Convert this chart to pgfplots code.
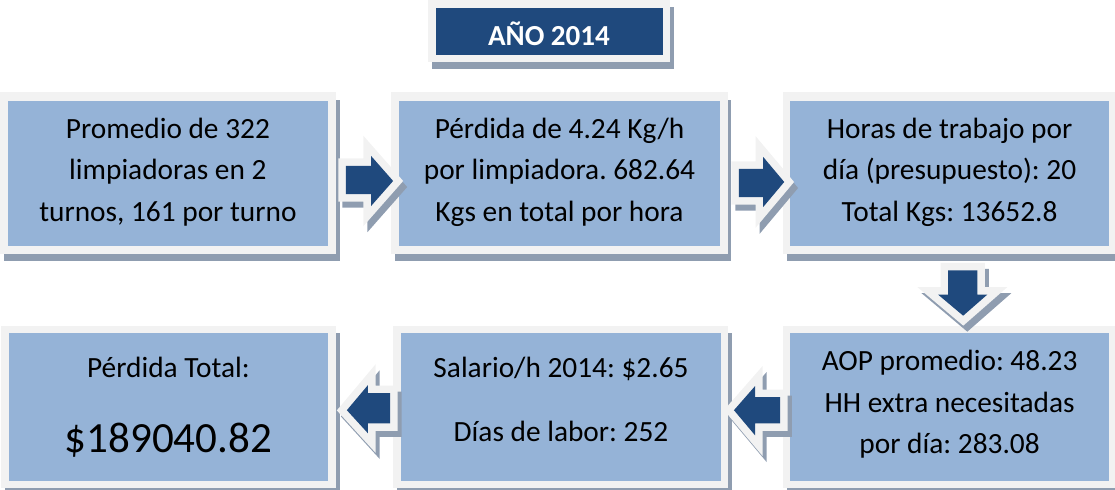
\documentclass[border=0pt]{standalone}
\usepackage{fontspec}
\setmainfont{Carlito}
\usepackage{pgfplots}
\pgfplotsset{compat=1.18}
\definecolor{frm}{HTML}{F2F2F2}
\definecolor{fillb}{HTML}{95B3D7}
\definecolor{dark}{HTML}{1F497D}
\definecolor{shd}{RGB}{143,157,176}
% rectangle from (x1,y1) to (x2,y2), pixel coordinates, y down
\newcommand\rect[5]{\addplot[draw=none,fill=#1,mark=none] coordinates {(#2,#3) (#4,#3) (#4,#5) (#2,#5)} --cycle;}
\tikzset{txt/.style={anchor=base,inner sep=0pt,font=\fontsize{29.3}{41}\selectfont,text=black}}
\frenchspacing
\begin{document}
\begin{tikzpicture}
\begin{axis}[x=1bp,y=1bp,xmin=0,xmax=1115,ymin=0,ymax=489,y dir=reverse,
  hide axis,scale only axis,clip=true]
% ---- title
\rect{shd}{436}{9}{676}{71}
\rect{frm}{432}{2}{672}{64}
\rect{dark}{440}{10}{665}{57}
% ---- top row boxes: shadow, frame, inner
\rect{shd}{10}{101}{344}{262}
\rect{frm}{6}{94}{340}{255}
\rect{fillb}{14}{102}{332}{247}
\rect{shd}{399}{101}{733}{262}
\rect{frm}{395}{94}{730}{255}
\rect{fillb}{403}{102}{722}{247}
\rect{shd}{789}{101}{1119}{262}
\rect{frm}{785}{94}{1115}{255}
\rect{fillb}{792}{102}{1109}{247}
% ---- bottom row boxes
\rect{shd}{11}{333}{344}{494}
\rect{frm}{7}{326}{340}{487}
\rect{fillb}{15}{333}{332}{480}
\rect{shd}{401}{333}{734}{494}
\rect{frm}{397}{326}{730}{487}
\rect{fillb}{405}{333}{723}{480}
\rect{shd}{789}{333}{1119}{494}
\rect{frm}{785}{326}{1115}{487}
\rect{fillb}{792}{333}{1109}{480}
% ---- arrows: shadow, frame (thick outline), dark fill
% A1 right
\addplot[draw=shd,fill=shd,line width=15bp,line join=miter,mark=none] coordinates {(354,173) (379,173) (379,163) (401,188) (379,213) (379,201) (354,201)} --cycle;
\addplot[draw=frm,fill=frm,line width=15bp,line join=miter,mark=none] coordinates {(350,167) (375,167) (375,157) (397,182) (375,207) (375,195) (350,195)} --cycle;
\addplot[draw=none,fill=dark,mark=none] coordinates {(350,167) (375,167) (375,157) (397,182) (375,207) (375,195) (350,195)} --cycle;
% A2 right
\addplot[draw=shd,fill=shd,line width=15bp,line join=miter,mark=none] coordinates {(745,176) (769,176) (769,164) (790,189) (769,214) (769,204) (745,204)} --cycle;
\addplot[draw=frm,fill=frm,line width=15bp,line join=miter,mark=none] coordinates {(741,170) (765,170) (765,158) (786,183) (765,208) (765,198) (741,198)} --cycle;
\addplot[draw=none,fill=dark,mark=none] coordinates {(741,170) (765,170) (765,158) (786,183) (765,208) (765,198) (741,198)} --cycle;
% A3 down
\addplot[draw=shd,fill=shd,line width=15bp,line join=miter,mark=none] coordinates {(953,277) (982,277) (982,301) (992,301) (968,322) (943,301) (953,301)} --cycle;
\addplot[draw=frm,fill=frm,line width=15bp,line join=miter,mark=none] coordinates {(949,271) (978,271) (978,295) (988,295) (964,316) (939,295) (949,295)} --cycle;
\addplot[draw=none,fill=dark,mark=none] coordinates {(949,271) (978,271) (978,295) (988,295) (964,316) (939,295) (949,295)} --cycle;
% A4 left (B6 -> B5)
\addplot[draw=shd,fill=shd,line width=15bp,line join=miter,mark=none] coordinates {(786,403) (786,429) (761,429) (761,441) (740,416) (761,392) (761,403)} --cycle;
\addplot[draw=frm,fill=frm,line width=15bp,line join=miter,mark=none] coordinates {(782,397) (782,423) (757,423) (757,435) (736,410) (757,386) (757,397)} --cycle;
\addplot[draw=none,fill=dark,mark=none] coordinates {(782,397) (782,423) (757,423) (757,435) (736,410) (757,386) (757,397)} --cycle;
% A5 left (B5 -> B4)
\addplot[draw=shd,fill=shd,line width=15bp,line join=miter,mark=none] coordinates {(398,399) (398,429) (376,429) (376,439) (355,416) (376,391) (376,399)} --cycle;
\addplot[draw=frm,fill=frm,line width=15bp,line join=miter,mark=none] coordinates {(394,393) (394,423) (372,423) (372,433) (351,410) (372,385) (372,393)} --cycle;
\addplot[draw=none,fill=dark,mark=none] coordinates {(394,393) (394,423) (372,423) (372,433) (351,410) (372,385) (372,393)} --cycle;
% ---- texts
\node[txt,text=white,font=\fontsize{29}{34}\selectfont\bfseries] at (axis cs:552,47) {AÑO 2014};
\node[txt] at (axis cs:173,140) {Promedio de 322};
\node[txt] at (axis cs:173,181) {limpiadoras en 2};
\node[txt] at (axis cs:173,222) {turnos, 161 por turno};
\node[txt] at (axis cs:562.5,140) {Pérdida de 4.24 Kg/h};
\node[txt] at (axis cs:562.5,181) {por limpiadora. 682.64};
\node[txt] at (axis cs:562.5,222) {Kgs en total por hora};
\node[txt] at (axis cs:950.5,140) {Horas de trabajo por};
\node[txt] at (axis cs:950.5,181) {día (presupuesto): 20};
\node[txt] at (axis cs:950.5,222) {Total Kgs: 13652.8};
\node[txt] at (axis cs:173.5,377) {Pérdida Total:};
\node[txt,font=\fontsize{43}{50}\selectfont] at (axis cs:173.5,452) {\$189040.82};
\node[txt] at (axis cs:564,377) {Salario/h 2014: \$2.65};
\node[txt] at (axis cs:564,441) {Días de labor: 252};
\node[txt] at (axis cs:950.5,371) {AOP promedio: 48.23};
\node[txt] at (axis cs:950.5,412) {HH extra necesitadas};
\node[txt] at (axis cs:950.5,453) {por día: 283.08};
\end{axis}
\end{tikzpicture}
\end{document}
